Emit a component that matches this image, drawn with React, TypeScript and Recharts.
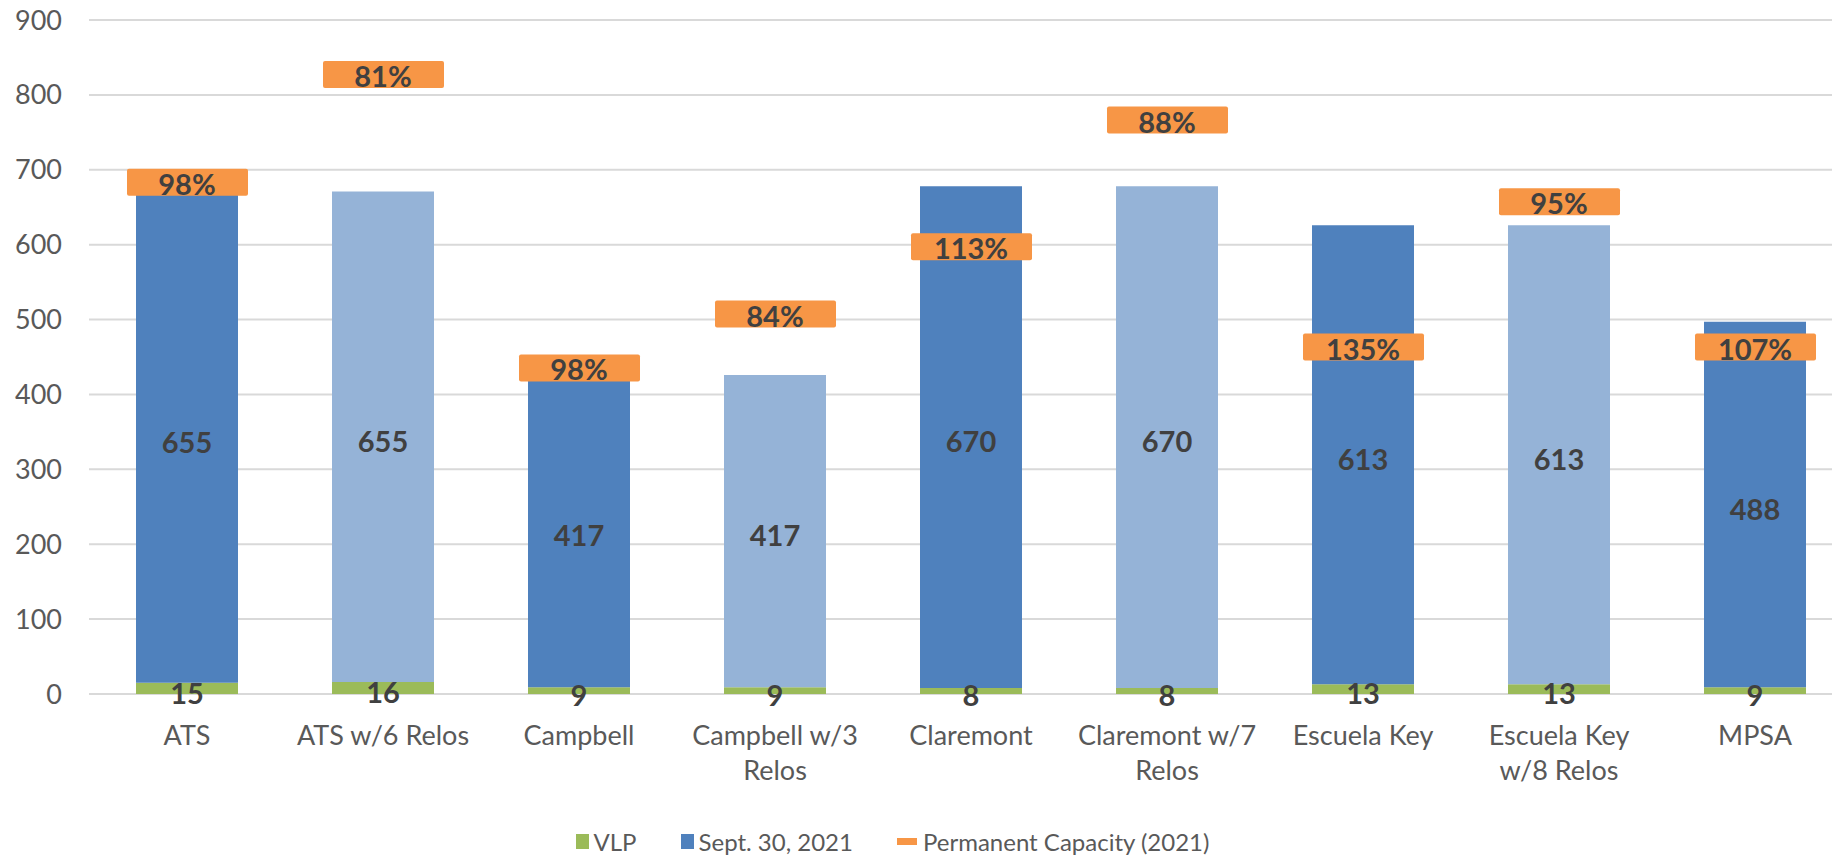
import React from 'react';
import {
  ComposedChart, Bar, Line, XAxis, YAxis, CartesianGrid,
  Legend, LabelList, Cell,
} from 'recharts';

const FONT = 'Lato, "Open Sans", sans-serif';

const GREEN  = '#9BBB59';
const BLUE   = '#4F81BD';
const LIGHT  = '#95B3D7';
const ORANGE = '#F79646';
const LABEL  = '#404040';
const AXIS   = '#595959';
const GRID   = '#D9D9D9';

const CATEGORIES = [
  'ATS', 'ATS w/6 Relos', 'Campbell', 'Campbell w/3\nRelos', 'Claremont',
  'Claremont w/7\nRelos', 'Escuela Key', 'Escuela Key\nw/8 Relos', 'MPSA',
];
const VLP          = [15, 16, 9, 9, 8, 8, 13, 13, 9];
const SEPT_30      = [655, 655, 417, 417, 670, 670, 613, 613, 488];
const CAPACITY     = [684, 828, 436, 508, 598, 767, 464, 658, 464];
const CAPACITY_PCT = ['98%', '81%', '98%', '84%', '113%', '88%', '135%', '95%', '107%'];
const Y_TICKS      = [0, 100, 200, 300, 400, 500, 600, 700, 800, 900];

const data = CATEGORIES.map((name, i) => ({
  name,
  vlp: VLP[i],
  sept: SEPT_30[i],
  capacity: CAPACITY[i],
}));

function CategoryTick({ x, y, payload }: any) {
  const lines = String(payload.value).split('\n');
  return (
    <text x={x} y={y} textAnchor="middle" fill={AXIS} fontSize={27} fontFamily={FONT}>
      {lines.map((l, i) => (
        <tspan key={i} x={x} dy={i === 0 ? 51 : 35}>{l}</tspan>
      ))}
    </text>
  );
}

function CapacityMarker(props: any) {
  const { cx, cy, index } = props;
  if (cx == null || cy == null) return null;
  return (
    <g>
      <rect x={cx - 60} y={cy - 13} width={121} height={27} rx={2} fill={ORANGE} />
      <text x={cx} y={cy + 13} textAnchor="middle" fill={LABEL}
            fontSize={29} fontWeight="bold" fontFamily={FONT}>
        {CAPACITY_PCT[index]}
      </text>
    </g>
  );
}

function LegendContent() {
  const item = { display: 'flex', alignItems: 'center', marginRight: 44 };
  return (
    <div style={{
      display: 'flex', justifyContent: 'center', alignItems: 'center',
      height: 40, paddingRight: 68, paddingTop: 3, fontSize: 24, color: AXIS, fontFamily: FONT,
    }}>
      <div style={item}>
        <span style={{ width: 13, height: 15, background: GREEN, marginRight: 5 }} />VLP
      </div>
      <div style={item}>
        <span style={{ width: 13, height: 15, background: BLUE, marginRight: 5 }} />Sept. 30, 2021
      </div>
      <div style={{ ...item, marginRight: 0 }}>
        <span style={{ width: 20, height: 7, background: ORANGE, marginRight: 6 }} />Permanent Capacity (2021)
      </div>
    </div>
  );
}

export default function App() {
  return (
    <div style={{
      position: 'absolute', left: 0, top: 0, width: 1832, height: 858,
      overflow: 'hidden', background: '#fff', fontFamily: FONT,
    }}>
      <ComposedChart width={1870} height={858} data={data}
                     margin={{ top: 20, right: 17, left: 0, bottom: 0 }}>
        <CartesianGrid vertical={false} stroke={GRID} strokeWidth={2} />
        <XAxis dataKey="name" interval={0} tickLine={false} axisLine={false}
               tickSize={0} tickMargin={0} height={124} tick={<CategoryTick />} />
        <YAxis domain={[0, 900]} ticks={Y_TICKS} tickLine={false} axisLine={false}
               tickSize={0} tickMargin={27} width={89}
               tick={{ fontSize: 27, fill: AXIS, fontFamily: FONT }} />
        <Legend verticalAlign="bottom" height={40} content={<LegendContent />} />
        <Bar dataKey="vlp" name="VLP" stackId="a" fill={GREEN} barSize={102}
             isAnimationActive={false}>
          <LabelList dataKey="vlp" position="center" fill={LABEL} fontSize={29}
                     fontWeight="bold" fontFamily={FONT} dy={5} />
        </Bar>
        <Bar dataKey="sept" name="Sept. 30, 2021" stackId="a" fill={BLUE} barSize={102}
             isAnimationActive={false}>
          {data.map((d, i) => (
            <Cell key={i} fill={d.name.includes('Relos') ? LIGHT : BLUE} />
          ))}
          <LabelList dataKey="sept" position="center" fill={LABEL} fontSize={29}
                     fontWeight="bold" fontFamily={FONT} dy={5} />
        </Bar>
        <Line dataKey="capacity" name="Permanent Capacity (2021)" stroke="none"
              dot={(p: any) => <CapacityMarker key={p.index} {...p} />}
              activeDot={false} isAnimationActive={false} />
      </ComposedChart>
    </div>
  );
}
